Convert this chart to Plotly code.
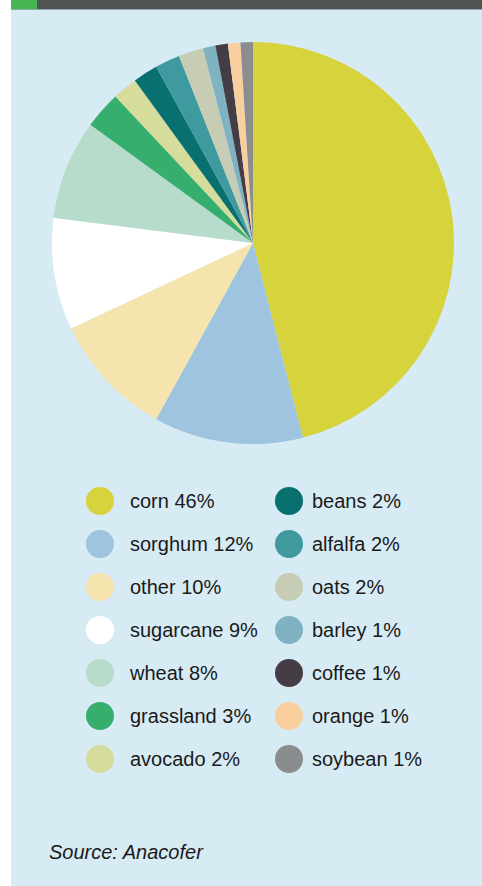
import plotly.graph_objects as go

# ---- data ----
crops = ["corn", "sorghum", "other", "sugarcane", "wheat", "grassland", "avocado",
         "beans", "alfalfa", "oats", "barley", "coffee", "orange", "soybean"]
shares = [46, 12, 10, 9, 8, 3, 2, 2, 2, 2, 1, 1, 1, 1]
colors = ["#D7D33C", "#9EC4E0", "#F5E4AE", "#FFFFFF", "#B7DCCB", "#35AE6E", "#D5DC9C",
          "#08706F", "#3F9AA0", "#C7CCB4", "#7FB3C1", "#453D45", "#F9CFA0", "#8A8C8E"]
source_text = "Source: Anacofer"

W, H = 482, 886
BG = "#D7EBF4"

fig = go.Figure()

# pie
cx, cy, r = 253, 243, 201
fig.add_trace(go.Pie(
    labels=crops, values=shares, sort=False, direction="clockwise", rotation=0,
    marker=dict(colors=colors, line=dict(width=0)),
    textinfo="none", showlegend=False,
    domain=dict(x=[(cx - r) / W, (cx + r) / W], y=[1 - (cy + r) / H, 1 - (cy - r) / H]),
))

# legend drawn as scatter in pixel coordinates (two columns of 7)
per_col = 7
col_x = [100, 289]
col_tx = [130, 312]
row_y0, row_dy = 501, 43
lx = [col_x[i // per_col] for i in range(len(crops))]
tx = [col_tx[i // per_col] for i in range(len(crops))]
ly = [row_y0 + row_dy * (i % per_col) for i in range(len(crops))]
labels = [f"{c} {s}%" for c, s in zip(crops, shares)]

fig.add_trace(go.Scatter(
    x=lx, y=ly, mode="markers",
    marker=dict(size=28, color=colors, line=dict(width=0)),
    showlegend=False, hoverinfo="skip",
))
fig.add_trace(go.Scatter(
    x=tx, y=[v + 2 for v in ly], mode="text", text=labels,
    textposition="middle right",
    textfont=dict(family="Liberation Sans, Arial, sans-serif", size=20, color="#1A1A1A"),
    showlegend=False, hoverinfo="skip",
))

# panel + top bar
shapes = [
    dict(type="rect", xref="paper", yref="paper", x0=11 / W, x1=1, y0=0, y1=1 - 9 / H,
         fillcolor=BG, line=dict(width=0), layer="below"),
    dict(type="rect", xref="paper", yref="paper", x0=11 / W, x1=1, y0=1 - 9 / H, y1=1,
         fillcolor="#4F5455", line=dict(width=0), layer="below"),
    dict(type="rect", xref="paper", yref="paper", x0=11 / W, x1=37 / W, y0=1 - 9 / H, y1=1,
         fillcolor="#47B754", line=dict(width=0), layer="below"),
    dict(type="rect", xref="paper", yref="paper", x0=11 / W, x1=1, y0=1 - 10 / H, y1=1 - 9 / H,
         fillcolor="#93A7B0", line=dict(width=0), layer="below"),
]

fig.update_layout(
    width=W, height=H, margin=dict(l=0, r=0, t=0, b=0),
    paper_bgcolor="#FFFFFF", plot_bgcolor="rgba(0,0,0,0)",
    shapes=shapes,
    xaxis=dict(range=[0, W], domain=[0, 1], visible=False, fixedrange=True),
    yaxis=dict(range=[H, 0], domain=[0, 1], visible=False, fixedrange=True),
    annotations=[dict(
        text=source_text, xref="x", yref="y", x=47, y=852, xanchor="left", yanchor="middle",
        showarrow=False,
        font=dict(family="Liberation Sans, Arial, sans-serif", size=20, color="#1A1A1A", style="italic"),
    )],
)

fig.write_html(
    "out.html",
    config={"displayModeBar": False},
    post_script="document.body.style.margin='0';document.body.style.overflow='hidden';",
)
